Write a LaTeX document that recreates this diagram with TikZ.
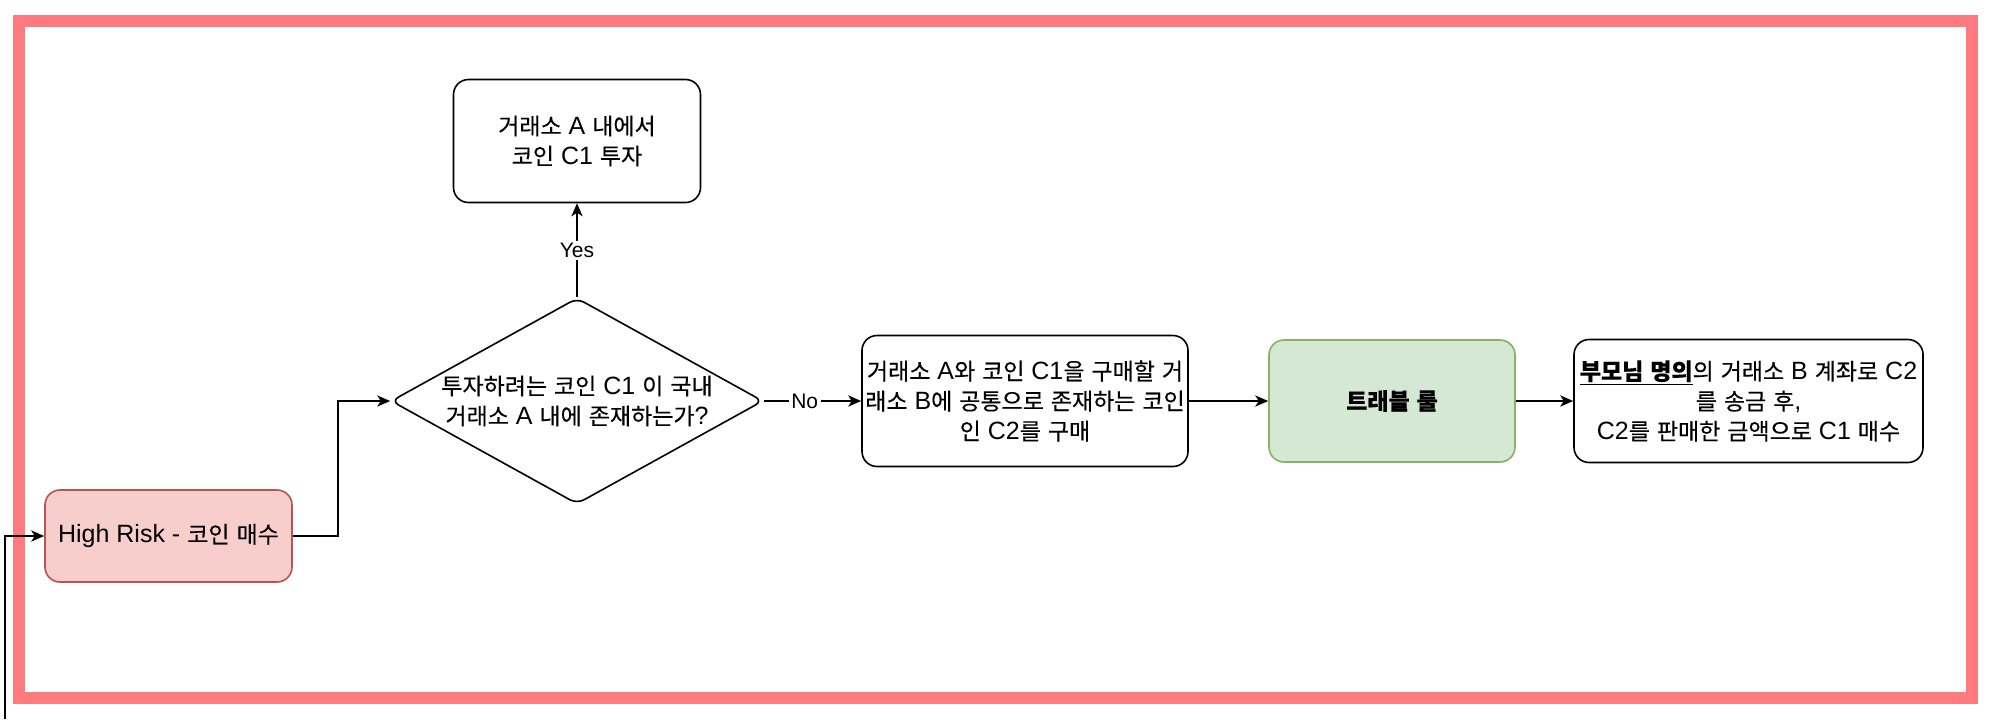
\documentclass[tikz,border=0pt]{standalone}
\usepackage{fontspec}
\usetikzlibrary{arrows.meta,shapes.geometric}
\setmainfont{Liberation Sans}
\newfontfamily\krfont[Scale=0.92,FakeBold=0.35]{Noto Sans CJK KR}
\XeTeXinterchartokenstate=1
\newXeTeXintercharclass\KrClass
\count255="AC00
\loop
  \XeTeXcharclass\count255=\KrClass
  \ifnum\count255<"D7A3 \advance\count255 by 1 \repeat
\XeTeXinterchartoks 0 \KrClass = {\begingroup\krfont}
\XeTeXinterchartoks 4095 \KrClass = {\begingroup\krfont}
\XeTeXinterchartoks \KrClass 0 = {\endgroup}
\XeTeXinterchartoks \KrClass 4095 = {\endgroup}
\definecolor{frameRed}{RGB}{255,122,126}
\definecolor{pinkF}{RGB}{248,206,204}
\definecolor{pinkD}{RGB}{184,84,80}
\definecolor{greenF}{RGB}{213,232,212}
\definecolor{greenD}{RGB}{130,179,102}
\tikzset{
  box/.style={draw=black, line width=0.8pt, rounded corners=7.5pt, align=center,
    inner sep=0pt, font=\fontsize{12.5}{15}\selectfont, text=black},
  dia/.style={draw=black, line width=0.8pt, diamond, rounded corners=4pt, aspect=1.8,
    inner sep=0pt, align=center, font=\fontsize{12.5}{15}\selectfont},
  arr/.style={draw=black, line width=0.85pt, -{Stealth[length=6.5pt,width=5.6pt,inset=1.8pt]}},
  lbl/.style={fill=white, inner sep=1.2pt, font=\fontsize{10.5}{12}\selectfont}
}
\begin{document}
\begin{tikzpicture}[x=0.5pt,y=-0.5pt]
\useasboundingbox (0,0) rectangle (2000,719);
\draw[line width=6pt, draw=frameRed] (19,21) rectangle (1971.5,698);

\node[box, fill=pinkF, draw=pinkD, minimum width=123.5pt, minimum height=46pt] (hr) at (168.5,536) {High Risk - 코인 매수};
\node[box, minimum width=123.5pt, minimum height=61.5pt] (inv) at (577,141) {거래소 A 내에서\\코인 C1 투자};
\node[dia, minimum width=186pt, minimum height=103pt] (q) at (577,401) {투자하려는 코인 C1 이 국내\\거래소 A 내에 존재하는가?};
\node[box, minimum width=163pt, minimum height=65.5pt] (buy) at (1025,401) {거래소 A와 코인 C1을 구매할 거\\래소 B에 공통으로 존재하는 코인\\인 C2를 구매};
\node[box, fill=greenF, draw=greenD, minimum width=123pt, minimum height=61pt, font=\fontsize{12.5}{15}\selectfont\bfseries] (tr) at (1392,401) {트래블 룰};
\node[box, minimum width=174.5pt, minimum height=61.5pt] (par) at (1748.5,401) {\underline{\bfseries 부모님 명의}의 거래소 B 계좌로 C2\\를 송금 후,\\C2를 판매한 금액으로 C1 매수};

\coordinate (src) at (5,719);
\draw[arr] (src) |- (hr.west);
\draw[arr] (hr.east) -- ++(45,0) |- (q.west);
\draw[arr] (q.north) -- node[lbl]{Yes} (inv.south);
\draw[arr] (q.east) -- node[lbl, pos=0.42]{No} (buy.west);
\draw[arr] (buy.east) -- (tr.west);
\draw[arr] (tr.east) -- (par.west);
\end{tikzpicture}
\end{document}
